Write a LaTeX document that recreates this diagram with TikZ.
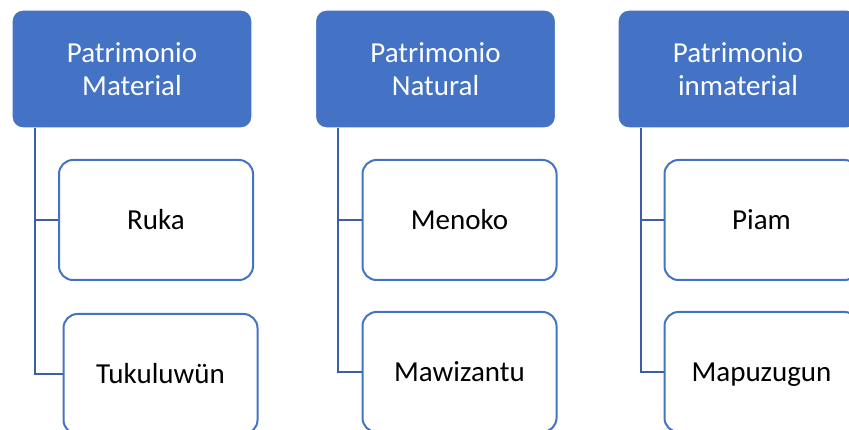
\documentclass[tikz,border=0pt]{standalone}
\usepackage{fontspec}
\setmainfont{Carlito}
\definecolor{hdrblue}{HTML}{4472C4}
\definecolor{linkblue}{HTML}{3B5EA6}
\begin{document}
\begin{tikzpicture}[x=1pt,y=-1pt,
  hdr/.style={rectangle, rounded corners=11pt, fill=hdrblue, draw=white, line width=1.2pt,
    minimum width=240pt, minimum height=118pt, text=white, align=center,
    font=\fontsize{29}{33}\selectfont, inner sep=0pt},
  child/.style={rectangle, rounded corners=14pt, fill=white, draw=hdrblue, line width=2pt,
    minimum width=194pt, minimum height=120pt, text=black, align=center,
    text height=19pt, text depth=0pt,
    font=\fontsize{29}{33}\selectfont, inner sep=0pt},
  conn/.style={draw=linkblue, line width=2.2pt}]
\useasboundingbox (0,0) rectangle (849,430);
\clip (0,0) rectangle (849,430);
\fill[white] (0,0) rectangle (849,430);
% column 1
\node[hdr] (h1) at (132,69) {Patrimonio\\Material};
\coordinate (t1) at (35,128);
\node[child] (c11) at (156,220) {Ruka};
\node[child] (c12) at (160.5,374) {Tukuluwün};
\draw[conn] (t1) |- (c11.west);
\draw[conn] (t1) |- (c12.west);
% column 2
\node[hdr] (h2) at (435.5,69) {Patrimonio\\Natural};
\coordinate (t2) at (338,128);
\node[child] (c21) at (459.5,220) {Menoko};
\node[child] (c22) at (459.5,372) {Mawizantu};
\draw[conn] (t2) |- (c21.west);
\draw[conn] (t2) |- (c22.west);
% column 3
\node[hdr] (h3) at (738,69) {Patrimonio\\inmaterial};
\coordinate (t3) at (641,128);
\node[child] (c31) at (761.5,220) {Piam};
\node[child] (c32) at (761.5,372) {Mapuzugun};
\draw[conn] (t3) |- (c31.west);
\draw[conn] (t3) |- (c32.west);
\end{tikzpicture}
\end{document}
